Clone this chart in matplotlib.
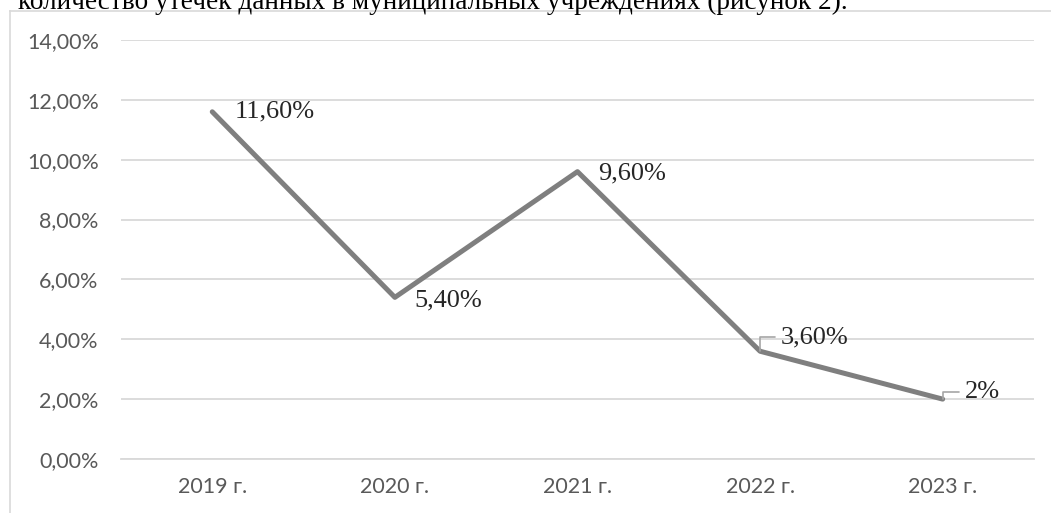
import matplotlib
matplotlib.use("Agg")
import matplotlib.pyplot as plt
from matplotlib.lines import Line2D
from matplotlib.ticker import FuncFormatter

# Datos del gráfico
anios = ["2019 г.", "2020 г.", "2021 г.", "2022 г.", "2023 г."]
valores = [11.6, 5.4, 9.6, 3.6, 2.0]
etiquetas = ["11,60%", "5,40%", "9,60%", "3,60%", "2%"]
ticks_y = [0, 2, 4, 6, 8, 10, 12, 14]

# desplazamientos de las etiquetas (puntos) y si llevan línea guía
desplazamientos = [(16, 0), (14, -2), (15, -1), (15, 10), (16, 5)]
con_guia = [False, False, False, True, True]

color_linea = "#7f7f7f"
color_texto = "#595959"
color_rejilla = "#d9d9d9"

fig = plt.figure(figsize=(10.51, 5.13), dpi=100)
ax = fig.add_axes([0.1151, 0.1053, 0.8687, 0.8168])

x = list(range(len(anios)))
ax.plot(x, valores, color=color_linea, linewidth=3.6, solid_capstyle="round",
        solid_joinstyle="round", zorder=3)

for i, (valor, texto) in enumerate(zip(valores, etiquetas)):
    dx, dy = desplazamientos[i]
    props = None
    if con_guia[i]:
        props = dict(arrowstyle="-", color="#a6a6a6", lw=1.2, shrinkA=2, shrinkB=0,
                     connectionstyle="angle,angleA=0,angleB=90,rad=0")
    ax.annotate(texto, xy=(i, valor), xytext=(dx, dy), textcoords="offset points",
                ha="left", va="center", fontsize=19, family="Liberation Serif",
                color="#262626", arrowprops=props, zorder=4)

ax.set_xlim(-0.5, len(anios) - 0.5)
ax.set_ylim(0, 14)
ax.set_yticks(ticks_y)
ax.yaxis.set_major_formatter(FuncFormatter(lambda v, p: f"{v:.2f}%".replace(".", ",")))
ax.set_xticks(x)
ax.set_xticklabels(anios)
ax.grid(axis="y", color=color_rejilla, linewidth=1.3)
ax.set_axisbelow(True)
for lado in ["top", "right", "left"]:
    ax.spines[lado].set_visible(False)
ax.spines["bottom"].set_color(color_rejilla)
ax.spines["bottom"].set_linewidth(1.3)
ax.tick_params(axis="both", length=0, colors=color_texto, labelsize=15.5)
ax.tick_params(axis="y", pad=16)
ax.tick_params(axis="x", pad=13)
for t in ax.get_xticklabels() + ax.get_yticklabels():
    t.set_family("Lato")

# marco del gráfico
fig.add_artist(Line2D([9.5 / 1051, 9.5 / 1051], [0, 1 - 11 / 513],
                      transform=fig.transFigure, color=color_rejilla, linewidth=1.2))
fig.add_artist(Line2D([9.5 / 1051, 1], [1 - 11 / 513, 1 - 11 / 513],
                      transform=fig.transFigure, color=color_rejilla, linewidth=1.2))

# texto del documento cortado arriba
fig.text(18 / 1051, 1 - 9 / 513,
         "количество утечек данных в муниципальных учреждениях (рисунок 2).",
         family="Liberation Serif", fontsize=19.6, color="black", va="baseline", ha="left")

fig.savefig("out.png", dpi=100)
